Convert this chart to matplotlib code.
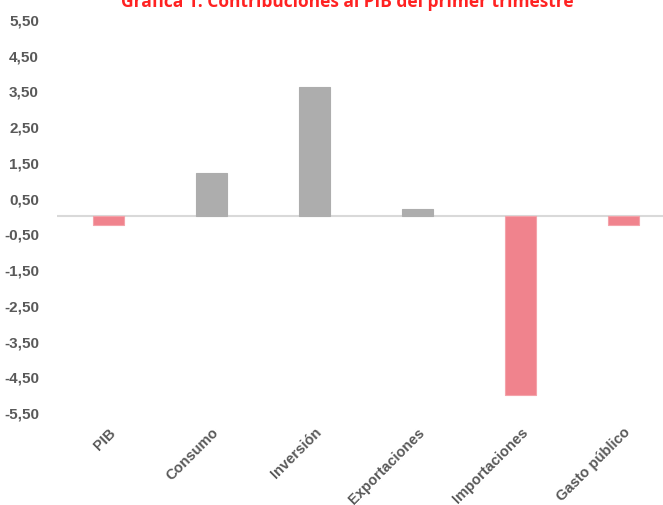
import matplotlib.pyplot as plt
import numpy as np

categorias = ['PIB', 'Consumo', 'Inversión', 'Exportaciones', 'Importaciones', 'Gasto público']
contribuciones = [-0.27, 1.18, 3.60, 0.18, -5.03, -0.26]
yticks = [5.5, 4.5, 3.5, 2.5, 1.5, 0.5, -0.5, -1.5, -2.5, -3.5, -4.5, -5.5]

gris = '#ADADAD'
rosa = '#F0838D'
texto = '#595959'

plt.rcParams['font.family'] = ['Liberation Sans', 'DejaVu Sans']

fig = plt.figure(figsize=(6.63, 5.06), dpi=100)
W, H = 663, 506
# axes in pixel terms: left 57, right past the figure edge, value 5.5 at y=20, -5.5 at y=413
ax = fig.add_axes([57 / W, (H - 413) / H, 618 / W, 393 / H])

x = np.arange(len(categorias))
colores = [gris if v >= 0 else rosa for v in contribuciones]
bordes = [gris if v >= 0 else '#F4A3AA' for v in contribuciones]
ax.bar(x, contribuciones, width=0.31, color=colores, edgecolor=bordes, linewidth=0.8, zorder=2)

ax.axhline(0, color='#D9D9D9', linewidth=1.5, zorder=1)

ax.set_xlim(-0.5, len(categorias) - 0.5)
ax.set_ylim(-5.5, 5.5)
ax.set_yticks(yticks)
ax.set_yticklabels([f'{v:.2f}'.replace('.', ',') for v in yticks],
                   fontsize=11, fontweight='bold', color=texto)
ax.set_xticks(x)
ax.set_xticklabels(categorias, rotation=45, ha='right', rotation_mode='anchor',
                   fontsize=10.5, fontweight='bold', color=texto)
ax.tick_params(axis='y', length=0, pad=13)
ax.tick_params(axis='x', length=0, pad=9)
for s in ax.spines.values():
    s.set_visible(False)

fig.text(347 / W, (H - 7) / H, 'Gráfica 1. Contribuciones al PIB del primer trimestre',
         ha='center', va='baseline', fontsize=12.5, fontweight='bold', color='#FF2222',
         family=['Open Sans', 'DejaVu Sans'])

fig.savefig('out.png', dpi=100)
